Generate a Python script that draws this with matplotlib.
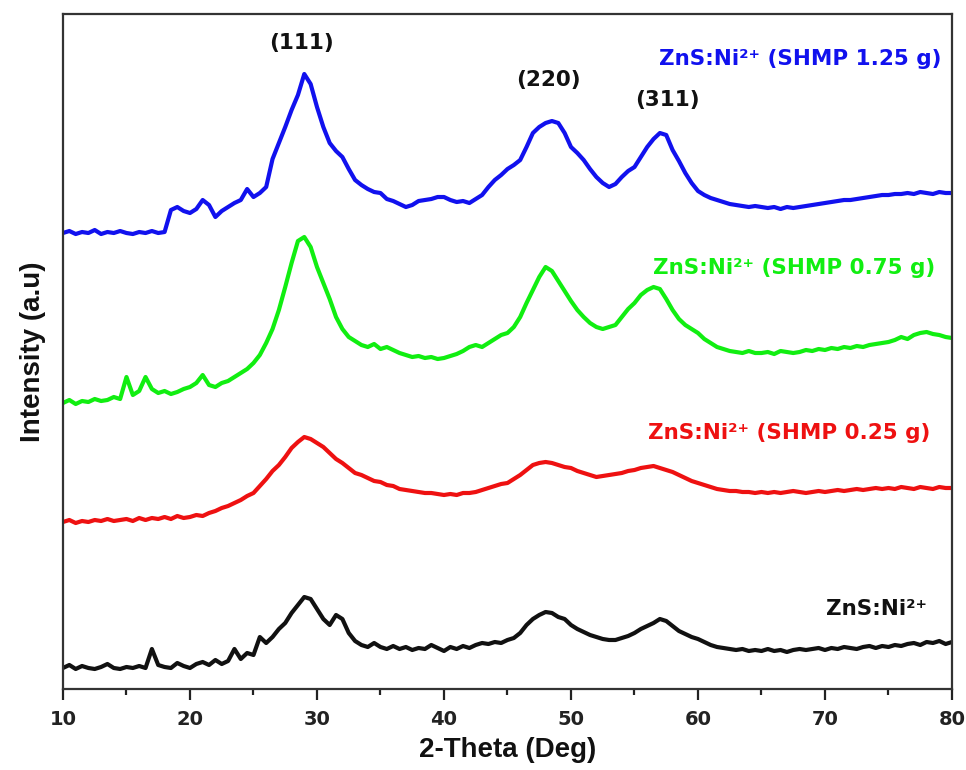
import numpy as np
import matplotlib
matplotlib.use("Agg")
import matplotlib.pyplot as plt
from matplotlib.ticker import MultipleLocator

plt.rcParams['font.family'] = ['Liberation Sans', 'DejaVu Sans']

# 2-theta grid (deg), 0.5 deg steps from 10 to 80
two_theta = np.arange(10.0, 80.01, 0.5)

# Intensities (a.u., offset-stacked as in the figure)
black_pure = [
    21, 24, 20, 23, 21, 20, 22, 25, 21, 20,
    22, 21, 23, 21, 40, 24, 22, 21, 26, 23,
    21, 25, 27, 24, 29, 25, 28, 40, 30, 36,
    34, 52, 46, 52, 60, 66, 76, 84, 92, 90,
    80, 70, 64, 74, 70, 56, 48, 44, 42, 46,
    42, 40, 43, 40, 42, 39, 41, 40, 44, 41,
    38, 42, 40, 43, 41, 44, 46, 45, 47, 46,
    49, 51, 56, 64, 70, 74, 77, 76, 72, 70,
    64, 60, 57, 54, 52, 50, 49, 49, 51, 53,
    56, 60, 63, 66, 70, 68, 63, 58, 55, 52,
    50, 47, 44, 42, 41, 40, 39, 40, 38, 39,
    38, 40, 38, 39, 37, 39, 40, 39, 40, 41,
    39, 41, 40, 42, 41, 40, 42, 43, 41, 43,
    42, 44, 43, 45, 46, 44, 47, 46, 48, 45,
    47]

red_025 = [
    167, 169, 166, 168, 167, 169, 168, 170, 168, 169,
    170, 168, 171, 169, 171, 170, 172, 170, 173, 171,
    172, 174, 173, 176, 178, 181, 183, 186, 189, 193,
    196, 203, 210, 218, 224, 232, 241, 247, 252, 250,
    246, 242, 236, 230, 226, 221, 216, 214, 211, 208,
    207, 204, 203, 200, 199, 198, 197, 196, 196, 195,
    194, 195, 194, 196, 196, 197, 199, 201, 203, 205,
    206, 210, 214, 219, 224, 226, 227, 226, 224, 222,
    221, 218, 216, 214, 212, 213, 214, 215, 216, 218,
    219, 221, 222, 223, 221, 219, 217, 214, 211, 208,
    206, 204, 202, 200, 199, 198, 198, 197, 197, 196,
    197, 196, 197, 196, 197, 198, 197, 196, 197, 198,
    197, 198, 199, 198, 199, 200, 199, 200, 201, 200,
    201, 200, 202, 201, 200, 202, 201, 200, 202, 201,
    201]

green_075 = [
    286, 289, 285, 288, 287, 290, 288, 289, 292, 290,
    312, 294, 298, 312, 300, 296, 298, 295, 297, 300,
    302, 306, 314, 304, 302, 306, 308, 312, 316, 320,
    326, 334, 346, 360, 379, 402, 426, 448, 452, 442,
    422, 406, 390, 372, 360, 352, 348, 344, 342, 345,
    340, 342, 339, 336, 334, 332, 333, 331, 332, 330,
    331, 333, 335, 338, 342, 344, 342, 346, 350, 354,
    356, 362, 372, 386, 399, 412, 422, 418, 408, 398,
    388, 379, 372, 366, 362, 360, 362, 364, 372, 380,
    386, 394, 399, 402, 400, 390, 379, 370, 364, 360,
    356, 350, 346, 342, 340, 338, 337, 336, 338, 336,
    336, 337, 335, 338, 337, 336, 337, 339, 338, 340,
    339, 341, 340, 342, 341, 343, 342, 344, 345, 346,
    347, 349, 352, 350, 354, 356, 357, 355, 354, 352,
    351]

blue_125 = [
    456, 458, 455, 457, 456, 459, 455, 457, 456, 458,
    456, 455, 457, 456, 458, 456, 457, 479, 482, 478,
    476, 480, 489, 484, 472, 478, 482, 486, 489, 500,
    492, 496, 502, 530, 546, 562, 579, 594, 615, 605,
    582, 562, 546, 538, 532, 520, 509, 504, 500, 497,
    496, 490, 488, 485, 482, 484, 488, 489, 490, 492,
    492, 489, 487, 488, 486, 490, 494, 502, 509, 514,
    520, 524, 529, 542, 556, 562, 566, 568, 566, 556,
    542, 536, 529, 520, 512, 506, 502, 505, 512, 518,
    522, 532, 542, 550, 556, 554, 539, 528, 516, 506,
    498, 494, 491, 489, 487, 485, 484, 483, 482, 483,
    482, 481, 482, 480, 482, 481, 482, 483, 484, 485,
    486, 487, 488, 489, 489, 490, 491, 492, 493, 494,
    494, 495, 495, 496, 495, 497, 496, 495, 497, 496,
    496]

series = [
    (black_pure, '#111111', 'ZnS:Ni²⁺'),
    (red_025, '#ee1111', 'ZnS:Ni²⁺ (SHMP 0.25 g)'),
    (green_075, '#11ee11', 'ZnS:Ni²⁺ (SHMP 0.75 g)'),
    (blue_125, '#1111ee', 'ZnS:Ni²⁺ (SHMP 1.25 g)'),
]
label_pos = [(78.0, 80), (78.3, 256), (78.7, 421), (79.2, 630)]

planes = ['(111)', '(220)', '(311)']
plane_pos = [(28.8, 646), (48.2, 609), (57.6, 589)]

fig = plt.figure(figsize=(9.66, 7.70), dpi=100)
ax = fig.add_axes([0.0652, 0.1052, 0.9203, 0.8766])

for (vals, col, lab), (lx, ly) in zip(series, label_pos):
    ax.plot(two_theta, vals, color=col, lw=3.0)
    ax.text(lx, ly, lab, color=col, fontsize=15.5, fontweight='bold',
            family=['DejaVu Sans'], ha='right', va='center')

for p, (px, py) in zip(planes, plane_pos):
    ax.text(px, py, p, color='#111111', fontsize=15.5, fontweight='bold',
            family=['DejaVu Sans'], ha='center', va='center')

ax.set_xlim(10, 80)
ax.set_ylim(0, 675)
ax.xaxis.set_major_locator(MultipleLocator(10))
ax.xaxis.set_minor_locator(MultipleLocator(5))
ax.set_yticks([])
ax.tick_params(axis='x', which='major', direction='out', length=8, width=1.6,
               labelsize=14, pad=7, colors='#222222')
ax.tick_params(axis='x', which='minor', direction='out', length=4, width=1.6,
               colors='#222222')
for lbl in ax.get_xticklabels():
    lbl.set_fontweight('bold')
    lbl.set_family(['DejaVu Sans'])
for s in ax.spines.values():
    s.set_linewidth(1.6)
    s.set_color('#333333')

ax.set_xlabel('2-Theta (Deg)', fontsize=20, fontweight='bold', labelpad=6,
              color='#111111')
ax.set_ylabel('Intensity (a.u)', fontsize=20, fontweight='bold', labelpad=12,
              color='#111111')

fig.savefig('out.png', dpi=100)
